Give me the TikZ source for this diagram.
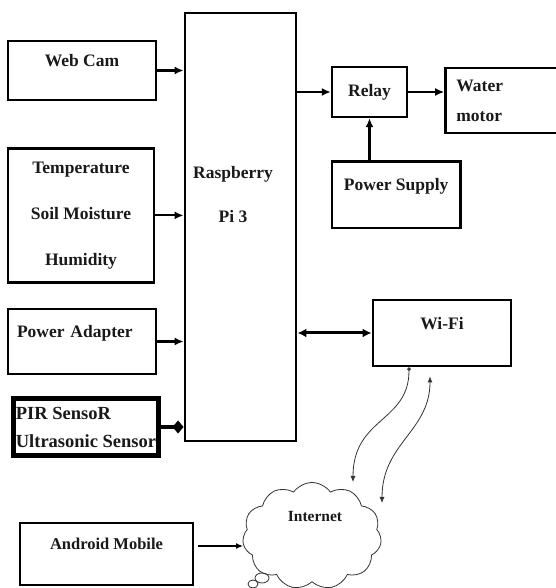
\documentclass[tikz,border=0pt]{standalone}
\usepackage{fontspec}
\setmainfont{Liberation Serif}
\usetikzlibrary{arrows.meta, positioning, calc, shapes.symbols}

\begin{document}
\begin{tikzpicture}[
    x=1pt, y=1pt,
    every node/.style={font=\fontsize{17.5}{20}\selectfont\bfseries, text=black!90},
    block/.style={rectangle, draw, line width=2.4pt, inner sep=0pt, align=center},
    arrow/.style={-{Latex[length=9pt,width=8pt]}, line width=2.2pt},
    link/.style={line width=0.8pt, draw=black!80},
]
\useasboundingbox (0,0) rectangle (555,588);

% === Inputs on the left ===
\node[block, minimum width=148pt, minimum height=59pt] (webcam) at (82,517.5) {Web Cam\\\mbox{}};
\node[block, minimum width=146pt, minimum height=134pt, below=46pt of webcam.south west, anchor=north west] (sensors) {Temperature\\[26pt]Soil Moisture\\[26pt]Humidity};
\node[block, minimum width=148pt, minimum height=65pt, text width=130pt, align=left] (adapter) at (82,246.5) {Power Adapter\\\mbox{}};
\node[block, line width=4.6pt, minimum width=145pt, minimum height=57pt, align=left,
      font=\fontsize{18.5}{28}\selectfont\bfseries] (pir) at (86,161) {PIR SensoR\\Ultrasonic Sensor};

% === Controller ===
\node[block, minimum width=111.5pt, minimum height=428.5pt] (pi) at (240.5,361) {};
\node[align=center] (pilabel) at (233,393) {Raspberry\\[24pt]Pi 3};

% === Outputs on the right ===
\node[block, minimum width=75pt, minimum height=50pt] (relay) at (369.5,496) {Relay};
\node[block, minimum width=116pt, minimum height=65pt, text width=94pt, align=left, right=36pt of relay, yshift=-8.5pt] (water) {Water\\[10pt]motor};
\node[block, minimum width=128.4pt, minimum height=66.4pt, below=42pt of relay.south west, anchor=north west] (psu) {Power Supply\\\mbox{}};
\node[block, minimum width=138.4pt, minimum height=66.4pt] (wifi) at (442,255) {Wi-Fi\\\mbox{}};

% === Remote side ===
\node[block, minimum width=173.4pt, minimum height=62.4pt, font=\fontsize{16.5}{20}\selectfont\bfseries] (android) at (106.5,34) {Android Mobile\\\mbox{}};
\node[cloud, link, cloud puffs=11, cloud puff arc=110, aspect=1.3, minimum width=139pt, minimum height=107pt] (cloud) at (312,52) {};
\node[font=\fontsize{15.5}{18}\selectfont\bfseries] (inetlabel) at (315,71) {Internet};
\draw[link] (262,10) ellipse (7 and 5);
\draw[link] (253,4) ellipse (5 and 4);

% === Connections ===
\draw[arrow] (webcam.east) -- (webcam.east -| pi.west);
\draw[arrow] (sensors.east) -- (sensors.east -| pi.west);
\draw[arrow] (adapter.east) -- (adapter.east -| pi.west);
\draw[line width=4.6pt, -{Diamond[length=11pt,width=13pt]}] (pir.east) -- (pir.east -| pi.west);
\draw[arrow] (relay.west -| pi.east) -- (relay.west);
\draw[arrow] (relay.east) -- (relay.east -| water.west);
\draw[arrow] (relay.south |- psu.north) -- (relay.south);
\draw[line width=3pt, {Latex[length=9pt,width=9pt]}-{Latex[length=9pt,width=9pt]}] (wifi.west -| pi.east) -- (wifi.west);

\coordinate (am) at ($(android.east)+(4,8)$);
\draw[-{Latex[length=7pt,width=6pt]}, line width=1.4pt] (am) -- (am -| cloud.west);

% wireless links
\draw[link, {Circle[length=3.5pt]}-{Latex[length=6pt,width=5pt]}] ($(wifi.south)+(-33,0)$) .. controls +(0,-55) and +(0,65) .. ($(cloud.center)+(41,54)$);
\draw[link, {Latex[length=6pt,width=5pt]}-{Latex[length=6pt,width=5pt]}] ($(wifi.south)+(-12,-9)$) .. controls +(0,-55) and +(0,60) .. ($(cloud.center)+(70,33)$);

\end{tikzpicture}
\end{document}
